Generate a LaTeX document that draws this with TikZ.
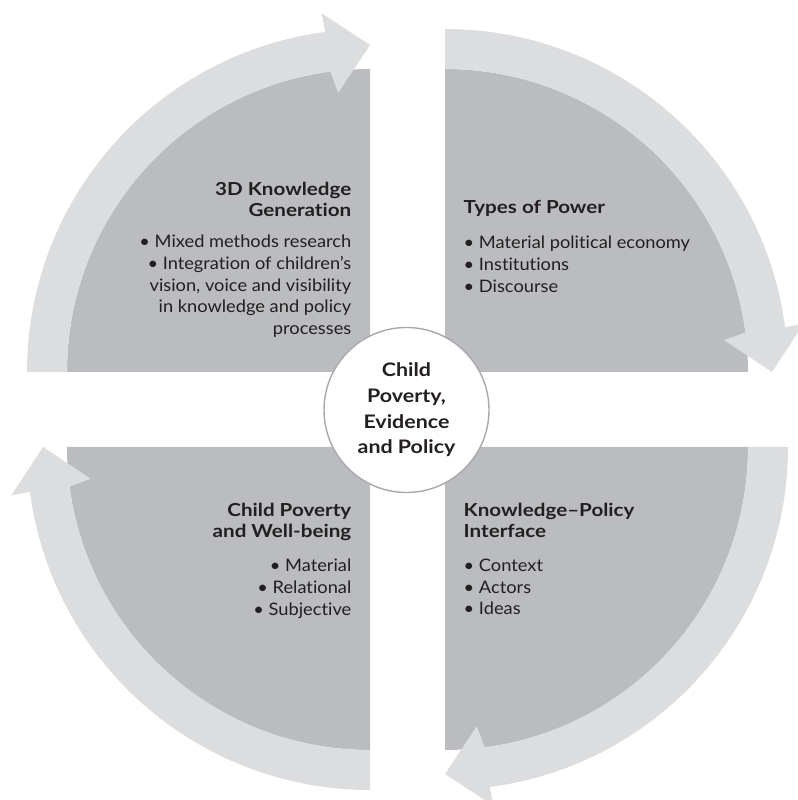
\documentclass[tikz,border=0pt]{standalone}
\usepackage{fontspec}
\setmainfont{Lato}[Ligatures=NoCommon, FakeStretch=1.06]
\newfontfamily\titlefont{Lato}[Ligatures=NoCommon, FakeStretch=1.15]

\definecolor{quadgrey}{HTML}{BBBCBF}
\definecolor{bandgrey}{HTML}{DCDDDF}
\definecolor{ringgrey}{HTML}{A7A9AC}
\definecolor{inkblack}{HTML}{231F20}

\begin{document}
\begin{tikzpicture}
        \useasboundingbox (-4.075,-3.905) rectangle (3.895,4.095);

        % the four quarters
        \begin{scope}[every path/.style={fill=quadgrey}]
            \fill (-0.375, 0.375) -- ++(180:3.03) arc[start angle=180, end angle=90, radius=3.03] -- cycle;
            \fill ( 0.375, 0.375) -- ++(90:3.03) arc[start angle=90, end angle=0, radius=3.03] -- cycle;
            \fill ( 0.375,-0.375) -- ++(0:3.03) arc[start angle=0, end angle=-90, radius=3.03] -- cycle;
            \fill (-0.375,-0.375) -- ++(-90:3.03) arc[start angle=-90, end angle=-180, radius=3.03] -- cycle;
        \end{scope}

        % the curved arrows, clockwise
        \begin{scope}[shift={(-0.375,0.375)}]
            \fill[bandgrey] (180:3.43) arc[start angle=180, end angle=97.5, radius=3.43]
                -- (97.7:3.62) -- (90:3.27) -- (96.5:2.81) -- (97.5:3.03)
                arc[start angle=97.5, end angle=180, radius=3.03] -- cycle;
        \end{scope}
        \begin{scope}[shift={(0.375,0.375)}]
            \fill[bandgrey] (90:3.43) arc[start angle=90, end angle=7.5, radius=3.43]
                -- (7.7:3.62) -- (0:3.27) -- (6.5:2.81) -- (7.5:3.03)
                arc[start angle=7.5, end angle=90, radius=3.03] -- cycle;
        \end{scope}
        \begin{scope}[shift={(0.375,-0.375)}]
            \fill[bandgrey] (0:3.43) arc[start angle=0, end angle=-82.5, radius=3.43]
                -- (-82.3:3.62) -- (-90:3.27) -- (-83.5:2.81) -- (-82.5:3.03)
                arc[start angle=-82.5, end angle=0, radius=3.03] -- cycle;
        \end{scope}
        \begin{scope}[shift={(-0.375,-0.375)}]
            \fill[bandgrey] (-90:3.43) arc[start angle=-90, end angle=-172.5, radius=3.43]
                -- (-172.3:3.62) -- (-180:3.27) -- (-173.5:2.81) -- (-172.5:3.03)
                arc[start angle=-172.5, end angle=-90, radius=3.03] -- cycle;
        \end{scope}

        \node[circle, draw=ringgrey, line width=0.4pt, fill=white, minimum size=1.65cm, inner sep=0pt,
              align=center, text=inkblack, font=\titlefont\bfseries\fontsize{5.3}{7.31}\selectfont]
              (hub) at (-0.01,-0.005) {Child\\Poverty,\\Evidence\\and Policy};

        \begin{scope}[every node/.style={inner sep=0pt, text=inkblack},
                      title/.style={font=\titlefont\bfseries\fontsize{5.1}{6.1}\selectfont},
                      items/.style={font=\fontsize{4.9}{6.15}\selectfont}]
            \node[title, align=right, anchor=north east] (gentitle) at (-0.555, 2.283) {3D Knowledge\\Generation};
            \node[items, align=right, anchor=north east] (genitems) at (-0.555, 1.75)
                {• Mixed methods research\\• Integration of children’s\\vision, voice and visibility\\in knowledge and policy\\processes};

            \node[title, align=left, anchor=north west] (powtitle) at (0.555, 2.103) {Types of Power};
            \node[items, align=left, anchor=north west] (powitems) at (0.555, 1.74)
                {• Material political economy\\• Institutions\\• Discourse};

            \node[title, align=right, anchor=north east] (wbtitle) at (-0.555, -0.927) {Child Poverty\\and Well-being};
            \node[items, align=right, anchor=north east] (wbitems) at (-0.555, -1.49)
                {• Material\\• Relational\\• Subjective};

            \node[title, align=left, anchor=north west] (kpititle) at (0.555, -0.927) {Knowledge–Policy\\Interface};
            \node[items, align=left, anchor=north west] (kpiitems) at (0.555, -1.49)
                {• Context\\• Actors\\• Ideas};
        \end{scope}
\end{tikzpicture}
\end{document}
